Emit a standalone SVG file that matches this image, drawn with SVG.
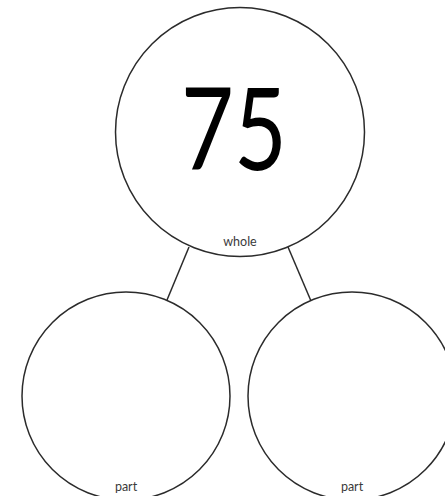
<svg xmlns="http://www.w3.org/2000/svg" width="445" height="496" viewBox="0 0 445 496">
<style>
.node{fill:#fff;stroke:#2b2b2b;stroke-width:1.5}
.conn{stroke:#2b2b2b;stroke-width:1.5;fill:none}
.lbl{font-family:Lato,"Open Sans",sans-serif;font-size:12.5px;fill:#3a3a3a;text-anchor:middle}
.num{font-family:Lato,"DejaVu Sans",sans-serif;font-weight:400;font-size:114px;fill:#000;text-anchor:middle}
</style>
<rect width="445" height="496" fill="#fff"/>
<g id="connectors">
<line class="conn" x1="189" y1="247" x2="167" y2="300"/>
<line class="conn" x1="288" y1="247" x2="311" y2="301"/>
</g>
<g id="whole">
<circle class="node" cx="240" cy="132" r="124.5"/>
<text class="num" transform="translate(234,170) scale(0.8,1)">75</text>
<text class="lbl" x="240" y="246">whole</text>
</g>
<g id="part-left">
<circle class="node" cx="126" cy="396" r="104"/>
<text class="lbl" x="126" y="491">part</text>
</g>
<g id="part-right">
<circle class="node" cx="352" cy="396" r="104"/>
<text class="lbl" x="352" y="491">part</text>
</g>
</svg>
